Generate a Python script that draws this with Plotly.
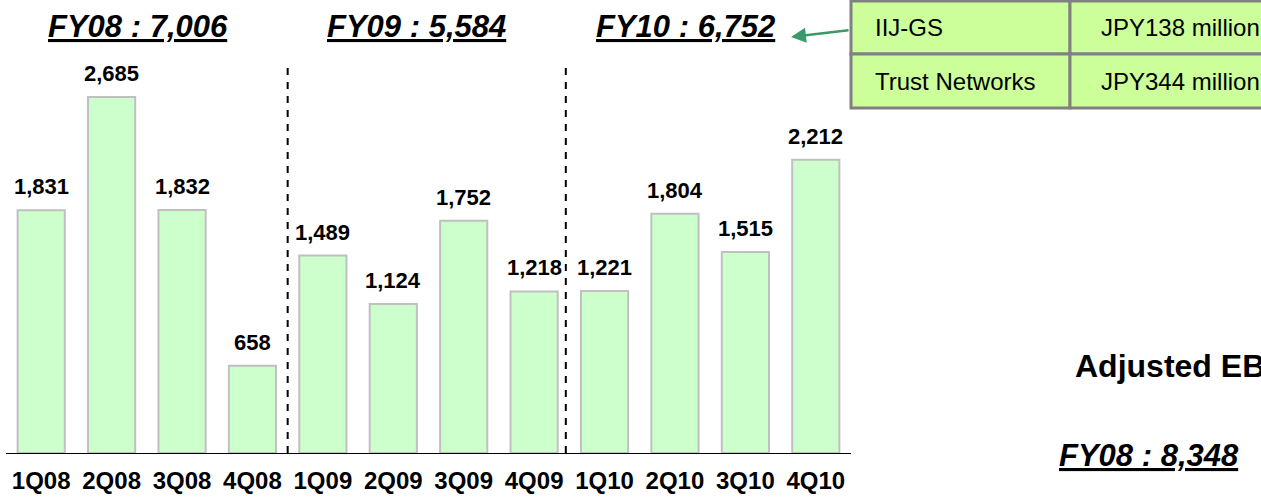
import plotly.graph_objs as go

quarters = ["1Q08", "2Q08", "3Q08", "4Q08", "1Q09", "2Q09",
            "3Q09", "4Q09", "1Q10", "2Q10", "3Q10", "4Q10"]
ebitda = [1831, 2685, 1832, 658, 1489, 1124, 1752, 1218, 1221, 1804, 1515, 2212]
fy_titles = ["FY08 : 7,006", "FY09 : 5,584", "FY10 : 6,752"]
table_names = ["IIJ-GS", "Trust Networks"]
table_values = ["JPY138 million", "JPY344 million"]

FONT = "Liberation Sans, Arial, sans-serif"

# plot area in pixels (left 6 .. 851, top 0 .. 453)
L, R, T, B = 6, 851, 0, 453


def px(x):
    return (x - L) / (R - L)


def py(y):
    return (B - y) / (B - T)


def label(text, x, y, size, xanchor="center"):
    return dict(text=text, xref="paper", yref="paper", x=px(x), y=py(y),
                xanchor=xanchor, yanchor="middle", showarrow=False,
                font=dict(family=FONT, size=size, color="black"))


fig = go.Figure()
fig.add_trace(go.Bar(
    x=quarters,
    y=ebitda,
    width=0.67,
    marker=dict(color="#ccffcc", line=dict(color="#c0c0c0", width=2)),
    hoverinfo="skip",
))

shapes = []
# fiscal year separators
for xs in [3.5, 7.45]:
    shapes.append(dict(type="line", xref="x", yref="paper", x0=xs, x1=xs,
                       y0=0, y1=py(67), line=dict(color="black", width=2, dash="7px,7px")))

# table in the top right corner
row_edges = [1, 54, 108]
for i in range(2):
    for x0, x1 in [(851, 1070), (1070, 1320)]:
        shapes.append(dict(type="rect", xref="paper", yref="paper",
                           x0=px(x0), x1=px(x1), y0=py(row_edges[i]), y1=py(row_edges[i + 1]),
                           fillcolor="#ccff99", line=dict(color="#808080", width=3)))

annotations = []
# value labels above the bars
for q, v in zip(quarters, ebitda):
    annotations.append(dict(text=f"<b>{v:,}</b>", x=q, y=v, xref="x", yref="y",
                            yanchor="bottom", yshift=9, showarrow=False,
                            font=dict(family=FONT, size=22, color="black")))

for title, cx in zip(fy_titles, [138, 416, 685]):
    annotations.append(label(f"<b><i><u>{title}</u></i></b>", cx, 27, 31))

for i in range(2):
    cy = (row_edges[i] + row_edges[i + 1]) / 2
    annotations.append(label(table_names[i], 873, cy, 24, "left"))
    annotations.append(label(table_values[i], 1099, cy, 24, "left"))

# arrow from table to FY10 title
annotations.append(dict(text="", xref="paper", yref="paper", x=px(791), y=py(37),
                        ax=59, ay=-7, showarrow=True, arrowhead=2, arrowsize=1.2,
                        arrowwidth=2.5, arrowcolor="#3a9a6a"))

annotations.append(label("<b>Adjusted EB</b>", 1073, 366, 32, "left"))
annotations.append(label("<b><i><u>FY08 : 8,348</u></i></b>", 1149, 455, 31))

fig.update_layout(
    width=1261, height=502,
    margin=dict(l=L, r=1261 - R, t=T, b=502 - B),
    paper_bgcolor="white", plot_bgcolor="white",
    showlegend=False,
    shapes=shapes,
    annotations=annotations,
    xaxis=dict(showline=True, linecolor="black", linewidth=1, range=[-0.5, 11.5],
               showgrid=False, ticks="", ticklabelstandoff=6,
               tickfont=dict(family=FONT, size=24, color="black"),
               tickvals=quarters, ticktext=[f"<b>{q}</b>" for q in quarters]),
    yaxis=dict(visible=False, range=[0, 3416], showgrid=False),
)

fig.write_html("out.html", config={"displayModeBar": False},
               post_script="document.body.style.margin='0';document.body.style.overflow='hidden';")
